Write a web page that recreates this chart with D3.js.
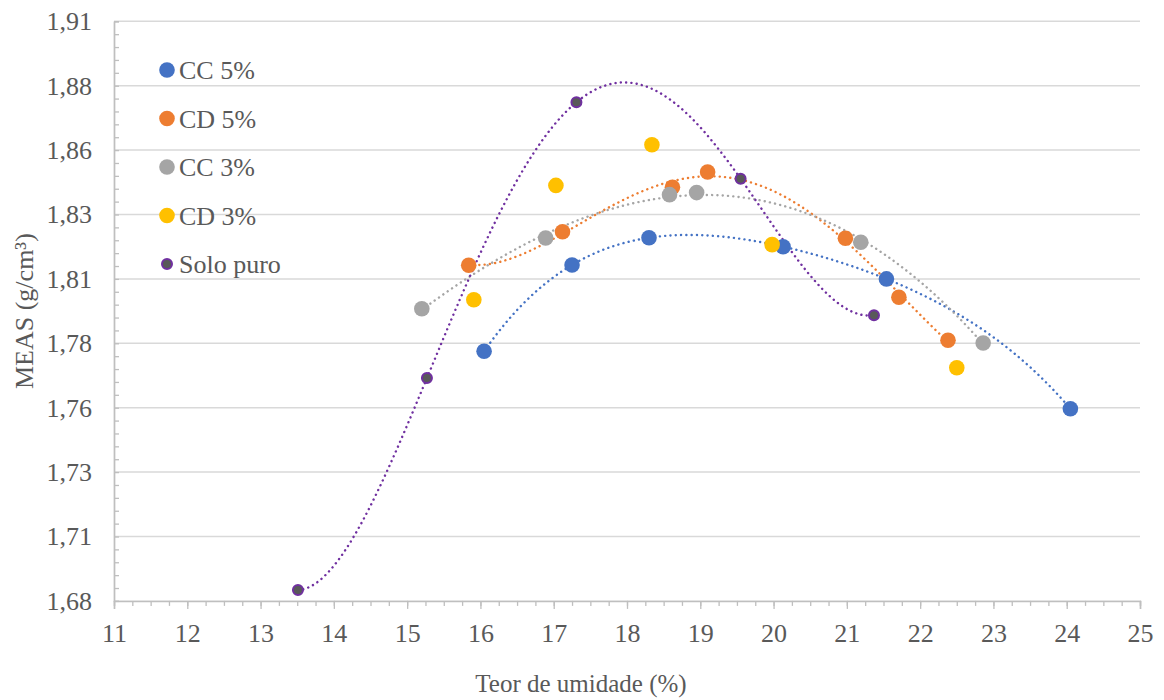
<!DOCTYPE html>
<html>
<head>
<meta charset="utf-8">
<script src="https://cdn.jsdelivr.net/npm/d3@7"></script>
<style>
  body { margin: 0; background: #fff; }
  svg { display: block; }
  text { font-family: "Liberation Serif", "Times New Roman", serif; fill: #595959; }
</style>
</head>
<body>
<svg id="chart" width="1164" height="700"></svg>
<script>
// ---------- DATA ----------
const seriesNames = ["CC 5%", "CD 5%", "CC 3%", "CD 3%", "Solo puro"];
const seriesColors = ["#4472C4", "#ED7D31", "#A5A5A5", "#FFC000", "#7030A0"];

const cc5X = [16.05, 17.25, 18.30, 20.13, 21.54, 24.05];
const cc5Y = [1.7769, 1.8104, 1.8210, 1.8175, 1.8050, 1.7546];

const cd5X = [15.84, 17.12, 18.62, 19.10, 20.98, 21.71, 22.38];
const cd5Y = [1.8103, 1.8233, 1.8406, 1.8465, 1.8208, 1.7979, 1.7812];

const cc3X = [15.20, 16.89, 18.58, 18.95, 21.19, 22.86];
const cc3Y = [1.7934, 1.8209, 1.8377, 1.8385, 1.8192, 1.7801];

const cd3X = [15.91, 17.03, 18.34, 19.98, 22.50];
const cd3Y = [1.7969, 1.8413, 1.8571, 1.8183, 1.7705];

const soloX = [13.51, 15.27, 17.31, 19.55, 21.37];
const soloY = [1.6842, 1.7665, 1.8736, 1.8439, 1.7909];

// polynomial trendline order per series (0 = no trendline)
const trendOrder = [4, 4, 3, 0, 4];

const xTickValues = [11, 12, 13, 14, 15, 16, 17, 18, 19, 20, 21, 22, 23, 24, 25];
const yTickValues = [1.68, 1.705, 1.73, 1.755, 1.78, 1.805, 1.83, 1.855, 1.88, 1.905];
const yTickLabels = ["1,68", "1,71", "1,73", "1,76", "1,78", "1,81", "1,83", "1,86", "1,88", "1,91"];

const xTitle = "Teor de umidade (%)";
const yTitle = "MEAS (g/cm³)";

// ---------- LAYOUT ----------
const W = 1164, H = 700;
const margin = { left: 114, right: 24, top: 21.3, bottom: 99.1 };
const FONT = "'Liberation Serif', 'Times New Roman', serif";
const svg = d3.select("#chart");

const x = d3.scaleLinear().domain([11, 25]).range([margin.left, W - margin.right]);
const y = d3.scaleLinear().domain([1.68, 1.905]).range([H - margin.bottom, margin.top]);

const series = [
  { name: seriesNames[0], xs: cc5X, ys: cc5Y },
  { name: seriesNames[1], xs: cd5X, ys: cd5Y },
  { name: seriesNames[2], xs: cc3X, ys: cc3Y },
  { name: seriesNames[3], xs: cd3X, ys: cd3Y },
  { name: seriesNames[4], xs: soloX, ys: soloY }
];

// gridlines
svg.append("g")
  .selectAll("line")
  .data(yTickValues.slice(1))
  .join("line")
  .attr("x1", x(11)).attr("x2", x(25))
  .attr("y1", d => y(d)).attr("y2", d => y(d))
  .attr("stroke", "#D9D9D9").attr("stroke-width", 1.5);

// x axis minor ticks
const xMinor = d3.range(11, 25.001, 0.25);
svg.append("g")
  .attr("transform", `translate(0,${y(1.68)})`)
  .call(d3.axisBottom(x).tickValues(xMinor).tickSize(5).tickFormat(""))
  .call(g => g.selectAll("path,line").attr("stroke", "#BFBFBF").attr("stroke-width", 1.3));

// x axis major
svg.append("g")
  .attr("transform", `translate(0,${y(1.68)})`)
  .call(d3.axisBottom(x).tickValues(xTickValues).tickSize(8).tickPadding(15).tickFormat(d3.format("d")))
  .call(g => g.select(".domain").attr("stroke", "#BFBFBF").attr("stroke-width", 1.5))
  .call(g => g.selectAll("line").attr("stroke", "#BFBFBF").attr("stroke-width", 1.3))
  .call(g => g.attr("font-family", FONT).attr("font-size", 26))
  .call(g => g.selectAll("text").style("font-family", FONT).style("font-size", "26px").attr("fill", "#595959"));

// y axis minor ticks (inside)
const yMinor = d3.range(1.68, 1.9051, 0.005);
svg.append("g")
  .attr("transform", `translate(${x(11)},0)`)
  .call(d3.axisRight(y).tickValues(yMinor).tickSize(5).tickFormat(""))
  .call(g => g.selectAll("path,line").attr("stroke", "#BFBFBF").attr("stroke-width", 1.3));

// y axis major
svg.append("g")
  .attr("transform", `translate(${x(11)},0)`)
  .call(d3.axisLeft(y).tickValues(yTickValues).tickSize(0).tickPadding(22)
    .tickFormat((d, i) => yTickLabels[i]))
  .call(g => g.select(".domain").attr("stroke", "#BFBFBF").attr("stroke-width", 1.5))
  .call(g => g.attr("font-family", FONT).attr("font-size", 26))
  .call(g => g.selectAll("text").style("font-family", FONT).style("font-size", "26px").attr("fill", "#595959"));

// ---------- TRENDLINES (least-squares polynomial) ----------
function polyfit(xs, ys, order) {
  const n = order + 1;
  const mx = d3.mean(xs);
  const A = Array.from({ length: n }, () => new Array(n + 1).fill(0));
  xs.forEach((xv, k) => {
    const t = xv - mx;
    for (let i = 0; i < n; i++) {
      for (let j = 0; j < n; j++) A[i][j] += Math.pow(t, i + j);
      A[i][n] += ys[k] * Math.pow(t, i);
    }
  });
  for (let c = 0; c < n; c++) {
    let p = c;
    for (let r = c + 1; r < n; r++) if (Math.abs(A[r][c]) > Math.abs(A[p][c])) p = r;
    [A[c], A[p]] = [A[p], A[c]];
    for (let r = 0; r < n; r++) {
      if (r === c) continue;
      const f = A[r][c] / A[c][c];
      for (let k = c; k <= n; k++) A[r][k] -= f * A[c][k];
    }
  }
  const coef = A.map((row, i) => row[n] / row[i]);
  return xv => coef.reduce((s, cf, i) => s + cf * Math.pow(xv - mx, i), 0);
}

const line = d3.line().x(d => x(d[0])).y(d => y(d[1])).curve(d3.curveLinear);
series.forEach((s, i) => {
  const ord = trendOrder[i];
  if (!ord) return;
  const f = polyfit(s.xs, s.ys, ord);
  const [lo, hi] = d3.extent(s.xs);
  const pts = d3.range(0, 201).map(k => { const xv = lo + (hi - lo) * k / 200; return [xv, f(xv)]; });
  svg.append("path")
    .attr("d", line(pts))
    .attr("fill", "none")
    .attr("stroke", seriesColors[i])
    .attr("stroke-width", 2.4)
    .attr("stroke-linecap", "round")
    .attr("stroke-dasharray", "0.1 5.2");
});

// ---------- MARKERS ----------
series.forEach((s, i) => {
  const isSolo = i === 4;
  svg.append("g")
    .selectAll("circle")
    .data(s.xs.map((xv, k) => [xv, s.ys[k]]))
    .join("circle")
    .attr("cx", d => x(d[0]))
    .attr("cy", d => y(d[1]))
    .attr("r", isSolo ? 5 : 7.8)
    .attr("fill", isSolo ? "#595959" : seriesColors[i])
    .attr("stroke", isSolo ? seriesColors[i] : "none")
    .attr("stroke-width", isSolo ? 2 : 0);
});

// ---------- LEGEND ----------
const legendY = [70, 118.5, 167, 215.5, 264];
const legend = svg.append("g");
series.forEach((s, i) => {
  const isSolo = i === 4;
  legend.append("circle")
    .attr("cx", 167).attr("cy", legendY[i])
    .attr("r", isSolo ? 5 : 7.8)
    .attr("fill", isSolo ? "#595959" : seriesColors[i])
    .attr("stroke", isSolo ? seriesColors[i] : "none")
    .attr("stroke-width", isSolo ? 2 : 0);
  legend.append("text")
    .attr("x", 179).attr("y", legendY[i] + 9)
    .attr("font-size", 26)
    .text(s.name);
});

// ---------- TITLES ----------
svg.append("text")
  .attr("x", 581).attr("y", 692)
  .attr("text-anchor", "middle")
  .attr("font-size", 25)
  .text(xTitle);

svg.append("text")
  .attr("transform", `translate(33,${(y(1.68) + y(1.905)) / 2}) rotate(-90)`)
  .attr("text-anchor", "middle")
  .attr("font-size", 26)
  .text(yTitle);
</script>
</body>
</html>
